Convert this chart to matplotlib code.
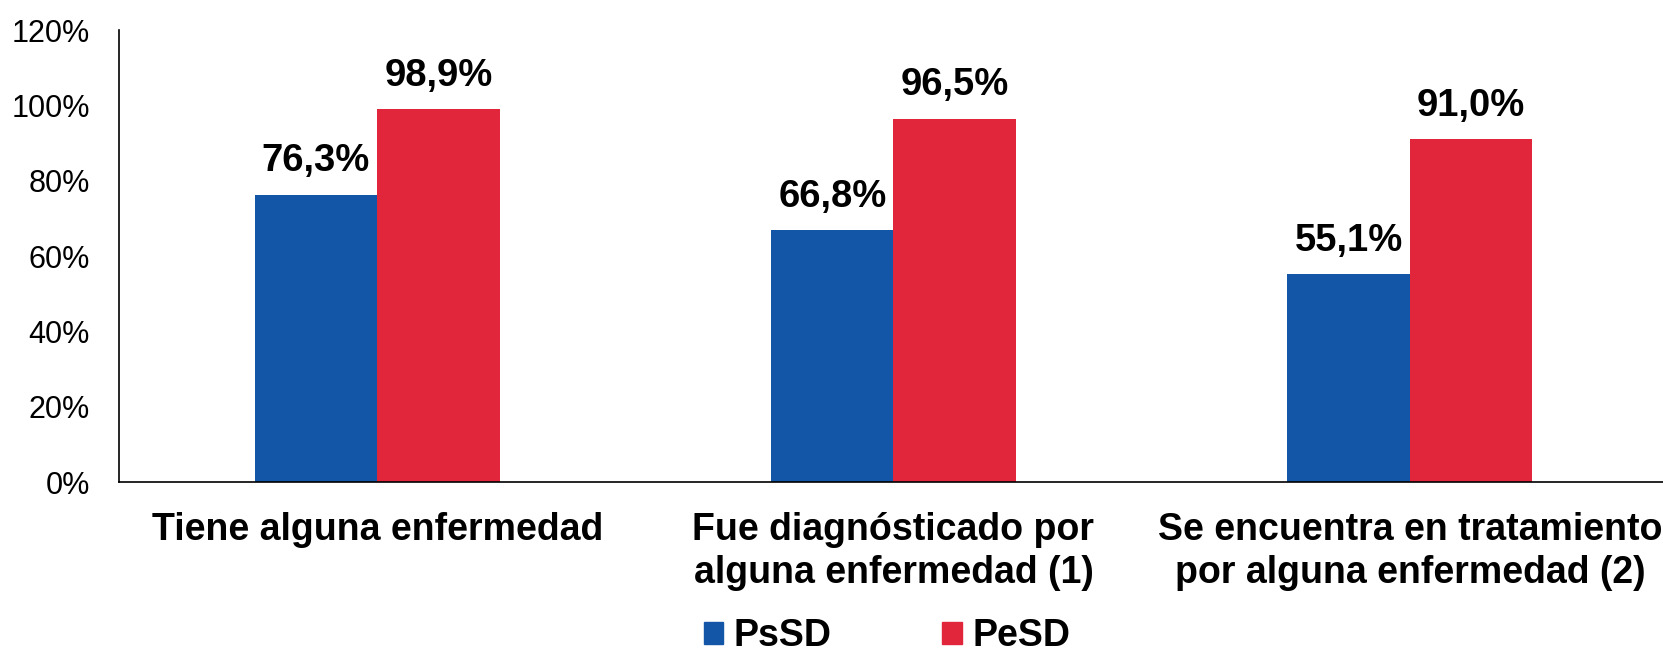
import matplotlib
matplotlib.use("Agg")
import matplotlib.pyplot as plt
import numpy as np
from matplotlib.patches import Patch

categories = ["Tiene alguna enfermedad",
              "Fue diagnósticado por\nalguna enfermedad (1)",
              "Se encuentra en tratamiento\npor alguna enfermedad (2)"]
series_names = ["PsSD", "PeSD"]
psd = [76.3, 66.8, 55.1]
pesd = [98.9, 96.5, 91.0]
yticks = [0, 20, 40, 60, 80, 100, 120]

colors = ["#1355A6", "#E1253A"]

plt.rcParams['font.family'] = ['Liberation Sans', 'DejaVu Sans']

W, H = 1663, 651
fig = plt.figure(figsize=(W / 100, H / 100), dpi=100)
ax = fig.add_axes([119 / W, 1 - 482 / H, (1668 - 119) / W, (482 - 30) / H])

x = np.arange(len(categories))
bw = 0.237
for i, (vals, c) in enumerate(zip([psd, pesd], colors)):
    pos = x + (i - 0.5) * bw
    ax.bar(pos, vals, width=bw, color=c, label=series_names[i])
    for p, v in zip(pos, vals):
        ax.annotate(f"{v:.1f}%".replace(".", ","), (p, v), xytext=(0, 11),
                    textcoords="offset points", ha="center", va="bottom",
                    fontsize=27.5, fontweight="bold")

ax.set_xlim(-0.5, len(categories) - 0.5)
ax.set_ylim(0, 120)
ax.set_yticks(yticks)
ax.set_yticklabels([f"{v}%" for v in yticks], fontsize=22)
ax.set_xticks(x)
ax.set_xticklabels(categories, fontsize=27, fontweight="bold", linespacing=1.25)
ax.tick_params(axis="both", length=0)
ax.tick_params(axis="y", pad=21)
ax.tick_params(axis="x", pad=21.5)
for s in ["top", "right"]:
    ax.spines[s].set_visible(False)
for s in ["left", "bottom"]:
    ax.spines[s].set_linewidth(1.2)
    ax.spines[s].set_color("black")

handles = [Patch(color=c) for c in colors]
fig.legend(handles, series_names, loc="center", ncol=2,
           bbox_to_anchor=(887 / W, 1 - 636 / H), frameon=False,
           prop={"size": 27, "weight": "bold"},
           handlelength=0.52, handleheight=0.52, handletextpad=0.28,
           columnspacing=2.95, borderpad=0, borderaxespad=0)

fig.savefig("out.png", dpi=100)
